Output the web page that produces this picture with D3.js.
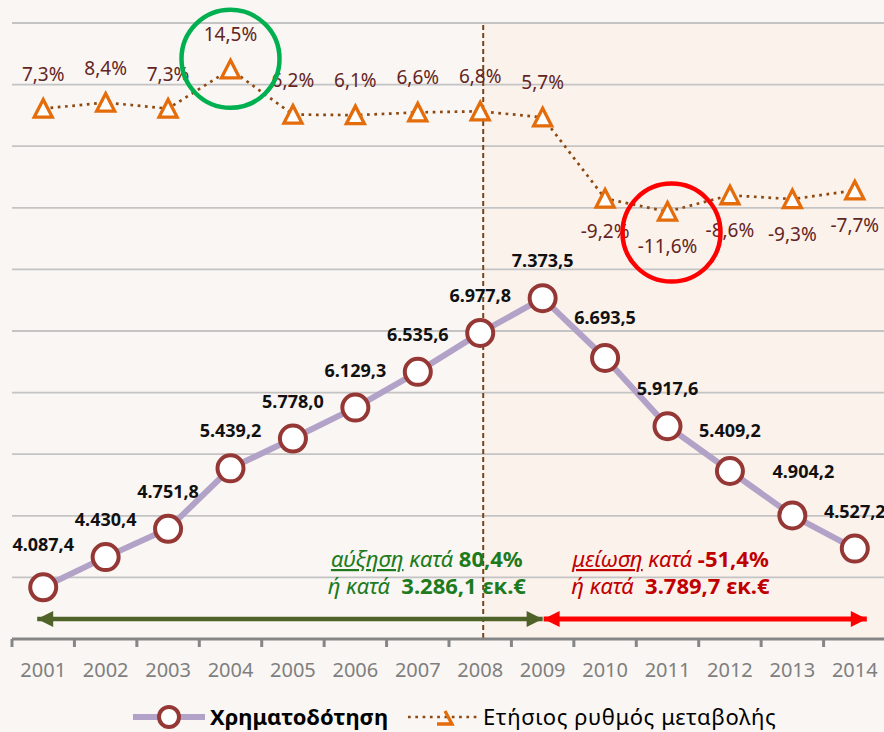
<!DOCTYPE html>
<html>
<head>
<meta charset="utf-8">
<script src="https://cdn.jsdelivr.net/npm/d3@7"></script>
<style>
  html, body { margin: 0; padding: 0; background: #f9f6f3; }
  svg { display: block; font-family: "Noto Sans", "DejaVu Sans", sans-serif; }
</style>
</head>
<body>
<svg id="chart" width="884" height="732"></svg>
<script>
// data
const years = ["2001", "2002", "2003", "2004", "2005", "2006", "2007", "2008", "2009", "2010", "2011", "2012", "2013", "2014"];
const funding = [4087.4, 4430.4, 4751.8, 5439.2, 5778.0, 6129.3, 6535.6, 6977.8, 7373.5, 6693.5, 5917.6, 5409.2, 4904.2, 4527.2];
const growth = [7.3, 8.4, 7.3, 14.5, 6.2, 6.1, 6.6, 6.8, 5.7, -9.2, -11.6, -8.6, -9.3, -7.7];
const seriesNames = ["Χρηματοδότηση", "Ετήσιος ρυθμός μεταβολής"];
const riseText = ["αύξηση", "κατά", "80,4%", "ή κατά", "3.286,1 εκ.€"];
const fallText = ["μείωση", "κατά", "-51,4%", "ή κατά", "3.789,7 εκ.€"];

const svg = d3.select("#chart");
const W = 884, H = 732;
const plotTop = 23, plotBottom = 639, plotLeft = 12, plotRight = 886;

// greek number format: 4.087,4
const gr = d3.formatLocale({ decimal: ",", thousands: ".", grouping: [3], currency: ["", "€"], minus: "-" });
const fmtVal = gr.format(",.1f");
const fmtPct = gr.format(".1f");

const x = d3.scaleBand().domain(years).range([plotLeft, plotRight]).padding(0);
const xc = d => x(d) + x.bandwidth() / 2;
const yL = d3.scaleLinear().domain([3500, 10500]).range([plotBottom, plotTop]);
const yR = d3.scaleLinear().domain([-90, 23]).range([plotBottom, plotTop]);

// background, with the 2009+ part a little pinker
svg.append("rect").attr("width", W).attr("height", H).attr("fill", "#f9f6f3");
svg.append("rect")
    .attr("x", xc("2008") + 3).attr("y", plotTop)
    .attr("width", W - xc("2008") - 3).attr("height", plotBottom - plotTop)
    .attr("fill", "#fbf2ec");

// gridlines
const gridValues = d3.range(3500, 10500 + 1, 700);
svg.append("g").selectAll("line")
    .data(gridValues.filter(v => v > 3500))
    .join("line")
    .attr("x1", plotLeft).attr("x2", W)
    .attr("y1", d => yL(d)).attr("y2", d => yL(d))
    .attr("stroke", "#c4c4c4").attr("stroke-width", 1.8);

// vertical dashed line at 2008
svg.append("line")
    .attr("x1", xc("2008") + 3).attr("x2", xc("2008") + 3)
    .attr("y1", plotTop + 2).attr("y2", plotBottom)
    .attr("stroke", "#76461a").attr("stroke-width", 2)
    .attr("stroke-dasharray", "5,3");

// x axis
const xAxis = svg.append("g")
    .attr("transform", `translate(0,${plotBottom})`)
    .call(d3.axisBottom(x).tickSize(0).tickPadding(0));
xAxis.select(".domain").remove();
xAxis.selectAll("text")
    .attr("y", 38).attr("dy", 0)
    .attr("fill", "#7f7f7f")
    .style("font-family", "Noto Sans")
    .style("font-size", "20px");
svg.append("line")
    .attr("x1", plotLeft).attr("x2", W).attr("y1", plotBottom).attr("y2", plotBottom)
    .attr("stroke", "#868686").attr("stroke-width", 3);
svg.append("g").selectAll("line")
    .data(years)
    .join("line")
    .attr("x1", d => x(d)).attr("x2", d => x(d))
    .attr("y1", plotBottom).attr("y2", plotBottom + 8)
    .attr("stroke", "#868686").attr("stroke-width", 3);

// growth series (dotted line with triangles)
const growthPts = years.map((y, i) => ({ year: y, v: growth[i] }));
svg.append("path")
    .datum(growthPts)
    .attr("d", d3.line().x(d => xc(d.year)).y(d => yR(d.v)))
    .attr("fill", "none")
    .attr("stroke", "#8c4a12").attr("stroke-width", 2.7)
    .attr("stroke-dasharray", "2.7,4.6");

const triPath = "M0,-9 L9,8.5 L-9,8.5 Z";
svg.append("g").selectAll("path")
    .data(growthPts)
    .join("path")
    .attr("d", triPath)
    .attr("transform", d => `translate(${xc(d.year)},${yR(d.v)})`)
    .attr("fill", "#ffffff").attr("stroke", "#e46c0a").attr("stroke-width", 3.3);

svg.append("g").selectAll("text")
    .data(growthPts)
    .join("text")
    .attr("x", d => xc(d.year))
    .attr("y", d => d.v >= 0 ? yR(d.v) - 28 : yR(d.v) + (d.year === "2010" ? 39 : 41.5))
    .attr("text-anchor", "middle")
    .attr("fill", "#632523")
    .style("font-size", "19px")
    .text(d => fmtPct(d.v) + "%");

// funding series (lavender line with circles)
const fundPts = years.map((y, i) => ({ year: y, v: funding[i] }));
svg.append("path")
    .datum(fundPts)
    .attr("d", d3.line().x(d => xc(d.year)).y(d => yL(d.v)))
    .attr("fill", "none")
    .attr("stroke", "#b3a2c7").attr("stroke-width", 6);

svg.append("g").selectAll("circle")
    .data(fundPts)
    .join("circle")
    .attr("cx", d => xc(d.year)).attr("cy", d => yL(d.v))
    .attr("r", 13)
    .attr("fill", "#ffffff").attr("stroke", "#953735").attr("stroke-width", 4);

// small nudges of some labels, as in the picture
const labelNudge = { "2001": [0, -5], "2010": [0, -3], "2012": [0, -3], "2013": [11, -6] };
svg.append("g").selectAll("text")
    .data(fundPts)
    .join("text")
    .attr("x", d => xc(d.year) + (labelNudge[d.year] ? labelNudge[d.year][0] : 0))
    .attr("y", d => yL(d.v) - 31 + (labelNudge[d.year] ? labelNudge[d.year][1] : 0))
    .attr("text-anchor", "middle")
    .attr("fill", "#111111")
    .style("font-size", "18px").style("font-weight", "bold")
    .text(d => fmtVal(d.v));

// highlight circles
svg.append("circle")
    .attr("cx", xc("2004")).attr("cy", yR(14.5) - 10.5).attr("r", 49)
    .attr("fill", "none").attr("stroke", "#00b050").attr("stroke-width", 4.5);
svg.append("circle")
    .attr("cx", xc("2011") + 4).attr("cy", yR(-11.6) + 21).attr("r", 49)
    .attr("fill", "none").attr("stroke", "#ff0000").attr("stroke-width", 4.5);

// arrows
const defs = svg.append("defs");
function arrowHead(id, color) {
    defs.append("marker")
        .attr("id", id)
        .attr("viewBox", "0 0 10 10")
        .attr("refX", 10).attr("refY", 5)
        .attr("markerUnits", "userSpaceOnUse")
        .attr("markerWidth", 17).attr("markerHeight", 16)
        .attr("orient", "auto-start-reverse")
        .append("path")
        .attr("d", "M0,0 L10,5 L0,10 Z")
        .attr("fill", color);
}
arrowHead("headGreen", "#4f6228");
arrowHead("headRed", "#ff0000");

const arrowY = 619;
svg.append("line")
    .attr("x1", xc("2001") - 6).attr("x2", xc("2009"))
    .attr("y1", arrowY).attr("y2", arrowY)
    .attr("stroke", "#4f6228").attr("stroke-width", 4.5)
    .attr("marker-start", "url(#headGreen)")
    .attr("marker-end", "url(#headGreen)");
svg.append("line")
    .attr("x1", xc("2009") + 1).attr("x2", xc("2014") + 12)
    .attr("y1", arrowY).attr("y2", arrowY)
    .attr("stroke", "#ff0000").attr("stroke-width", 5)
    .attr("marker-start", "url(#headRed)")
    .attr("marker-end", "url(#headRed)");

// change annotations
function note(cx, color, t) {
    const g = svg.append("g").attr("fill", color).style("font-size", "22px");
    const l1 = g.append("text").attr("x", cx).attr("y", 567).attr("text-anchor", "middle");
    l1.append("tspan").style("font-style", "italic").style("text-decoration", "underline").text(t[0]);
    l1.append("tspan").style("font-style", "italic").text(" " + t[1] + " ");
    l1.append("tspan").style("font-weight", "bold").text(t[2]);
    const l2 = g.append("text").attr("x", cx).attr("y", 594).attr("text-anchor", "middle")
        .style("white-space", "pre");
    l2.append("tspan").style("font-style", "italic").text(t[3] + "  ");
    l2.append("tspan").style("font-weight", "bold").text(t[4]);
}
note(xc("2007") + 9, "#1d7b1d", riseText);
note(xc("2011") + 3, "#c00000", fallText);

// legend
const lg = svg.append("g").attr("transform", "translate(0,717)");
lg.append("line").attr("x1", 133).attr("x2", 205)
    .attr("stroke", "#b3a2c7").attr("stroke-width", 6);
lg.append("circle").attr("cx", 169).attr("r", 10)
    .attr("fill", "#ffffff").attr("stroke", "#953735").attr("stroke-width", 4);
lg.append("text").attr("x", 210).attr("y", 7.5)
    .attr("fill", "#000000")
    .style("font-size", "22px").style("font-weight", "bold")
    .text(seriesNames[0]);
lg.append("line").attr("x1", 408).attr("x2", 478)
    .attr("stroke", "#8c4a12").attr("stroke-width", 2.7)
    .attr("stroke-dasharray", "2.7,4.6");
lg.append("path").attr("d", "M437,7 L452,7 L445,-6")
    .attr("fill", "none").attr("stroke", "#e46c0a").attr("stroke-width", 3.3);
lg.append("text").attr("x", 483).attr("y", 7.5)
    .attr("fill", "#000000")
    .style("font-size", "22px").style("letter-spacing", "0.6px")
    .text(seriesNames[1]);
</script>
</body>
</html>
